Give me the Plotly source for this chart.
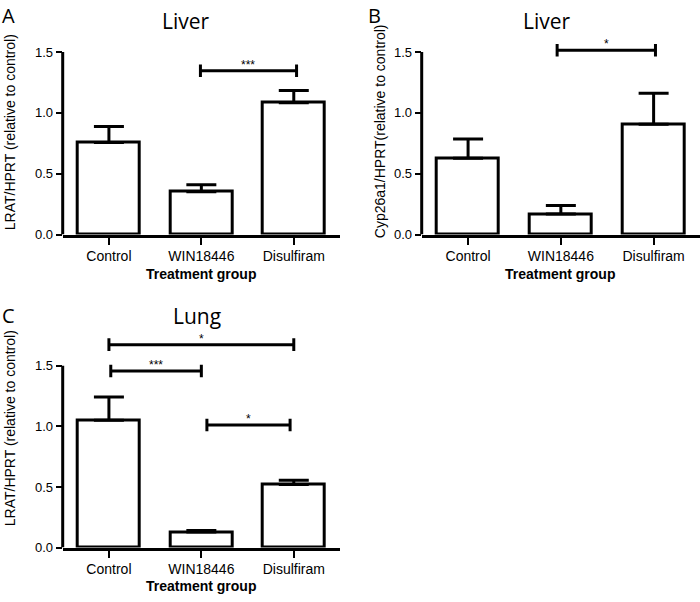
import plotly.graph_objects as go

# ---------------- data ----------------
categories = ["Control", "WIN18446", "Disulfiram"]

liver_lrat = [0.757, 0.352, 1.082]
liver_lrat_err = [0.130, 0.057, 0.102]

liver_cyp = [0.627, 0.168, 0.906]
liver_cyp_err = [0.159, 0.070, 0.256]

lung_lrat = [1.050, 0.128, 0.521]
lung_lrat_err = [0.192, 0.013, 0.035]

y_tick_vals = [0.0, 0.5, 1.0, 1.5]
y_tick_text = ["0.0", "0.5", "1.0", "1.5"]

# significance brackets: (from category position, to category position, height, label)
sig_A = [(0.99, 2.03, 1.346, "***")]
sig_B = [(0.96, 2.02, 1.514, "*")]
sig_C = [(0.00, 2.00, 1.674, "*"), (0.02, 1.00, 1.457, "***"), (1.06, 1.96, 1.011, "*")]

panel_titles = ["Liver", "Liver", "Lung"]
panel_letters = ["A", "B", "C"]
y_titles = ["LRAT/HPRT (relative to control)",
            "Cyp26a1/HPRT(relative to control)",
            "LRAT/HPRT (relative to control)"]
x_title = "Treatment group"

# ---------------- layout geometry (pixels) ----------------
W, H = 700, 602
YMAX = 1.8
AXMAX = 1.5
CAP = 0.052
# (x_left, x_right, y_px_at_0, y_px_at_1.5)
geom = [
    (62.7, 340.0, 237.7, 52.7),
    (421.7, 700.0, 237.7, 52.7),
    (62.7, 340.0, 555.0, 370.7),
]
title_pos = [(186, 21), (547, 21), (197, 320)]
letter_pos = [(0, 0), (366, 0), (0, 304)]          # top-left of letter box
ytitle_pos = [(10, 134), (380, 133), (10, 434)]
xtitle_pos = [(201, 268), (560, 268), (201, 584)]  # top of x-title box

TICK_FONT = "Liberation Sans, Arial, sans-serif"
TITLE_FONT = "Open Sans, Lato, sans-serif"

fig = go.Figure()
datasets = [(liver_lrat, liver_lrat_err, sig_A),
            (liver_cyp, liver_cyp_err, sig_B),
            (lung_lrat, lung_lrat_err, sig_C)]

shapes = []
annotations = []
for i, ((vals, errs, sigs), (xl, xr, y0, y15)) in enumerate(zip(datasets, geom)):
    n = "" if i == 0 else str(i + 1)
    xa, ya = "x" + n, "y" + n
    ppu = (y0 - y15) / AXMAX
    ytop = y0 - YMAX * ppu
    fig.add_trace(go.Bar(
        x=list(range(len(categories))), y=vals,
        xaxis=xa, yaxis=ya, width=0.67,
        marker=dict(color="white", line=dict(color="black", width=3)),
        error_y=dict(type="data", symmetric=False, array=errs,
                     arrayminus=[0] * len(errs), color="black",
                     thickness=3, width=15),
        showlegend=False, hoverinfo="skip",
    ))
    fig.update_layout(**{
        ("xaxis" + n): dict(
            domain=[xl / W, xr / W], range=[-0.5, 2.5], anchor=ya,
            tickvals=list(range(len(categories))), ticktext=categories,
            showline=True, linecolor="black", linewidth=3,
            ticks="outside", ticklen=7, tickwidth=2, tickcolor="black",
            showgrid=False, zeroline=False,
            tickfont=dict(family=TICK_FONT, size=14, color="black"),
            fixedrange=True,
        ),
        ("yaxis" + n): dict(
            domain=[1 - y0 / H, 1 - ytop / H], range=[0, YMAX], anchor=xa,
            tickvals=y_tick_vals, ticktext=y_tick_text,
            showline=False, ticks="outside", ticklen=6, tickwidth=2,
            tickcolor="black", showgrid=False, zeroline=False,
            tickfont=dict(family=TICK_FONT, size=13, color="black"),
            fixedrange=True,
        ),
    })
    # y axis line (stops at 1.5)
    shapes.append(dict(type="line", xref=xa + " domain", yref=ya,
                       x0=0, x1=0, y0=0, y1=AXMAX,
                       line=dict(color="black", width=3)))
    # significance brackets
    for (s0, s1, h, lab) in sigs:
        shapes.append(dict(type="line", xref=xa, yref=ya, x0=s0, x1=s1, y0=h, y1=h,
                           line=dict(color="black", width=3)))
        for sx in (s0, s1):
            shapes.append(dict(type="line", xref=xa, yref=ya, x0=sx, x1=sx,
                               y0=h - CAP, y1=h + CAP,
                               line=dict(color="black", width=3)))
        annotations.append(dict(x=(s0 + s1) / 2, y=h, xref=xa, yref=ya,
                                text=lab, showarrow=False, yanchor="bottom",
                                yshift=-3,
                                font=dict(family=TICK_FONT, size=12, color="black")))
    # titles
    tx, ty = title_pos[i]
    annotations.append(dict(x=tx / W, y=1 - ty / H, xref="paper", yref="paper",
                            text=panel_titles[i], showarrow=False,
                            xanchor="center", yanchor="middle",
                            font=dict(family=TITLE_FONT, size=21, color="black")))
    lx, ly = letter_pos[i]
    annotations.append(dict(x=lx / W, y=1 - ly / H, xref="paper", yref="paper",
                            text=panel_letters[i], showarrow=False,
                            xanchor="left", yanchor="top",
                            font=dict(family=TITLE_FONT, size=20, color="black")))
    yx, yy = ytitle_pos[i]
    annotations.append(dict(x=yx / W, y=1 - yy / H, xref="paper", yref="paper",
                            text=y_titles[i], showarrow=False, textangle=-90,
                            xanchor="center", yanchor="middle",
                            font=dict(family=TICK_FONT, size=14, color="black")))
    xx, xy = xtitle_pos[i]
    annotations.append(dict(x=xx / W, y=1 - xy / H, xref="paper", yref="paper",
                            text="<b>" + x_title + "</b>", showarrow=False,
                            xanchor="center", yanchor="top",
                            font=dict(family=TICK_FONT, size=14, color="black")))

fig.update_layout(
    width=W, height=H, margin=dict(l=0, r=0, t=0, b=0),
    paper_bgcolor="white", plot_bgcolor="white",
    shapes=shapes, annotations=annotations, showlegend=False,
    bargap=0,
)

fig.write_html("out.html", config={"displayModeBar": False},
               post_script="document.body.style.margin='0px';")
